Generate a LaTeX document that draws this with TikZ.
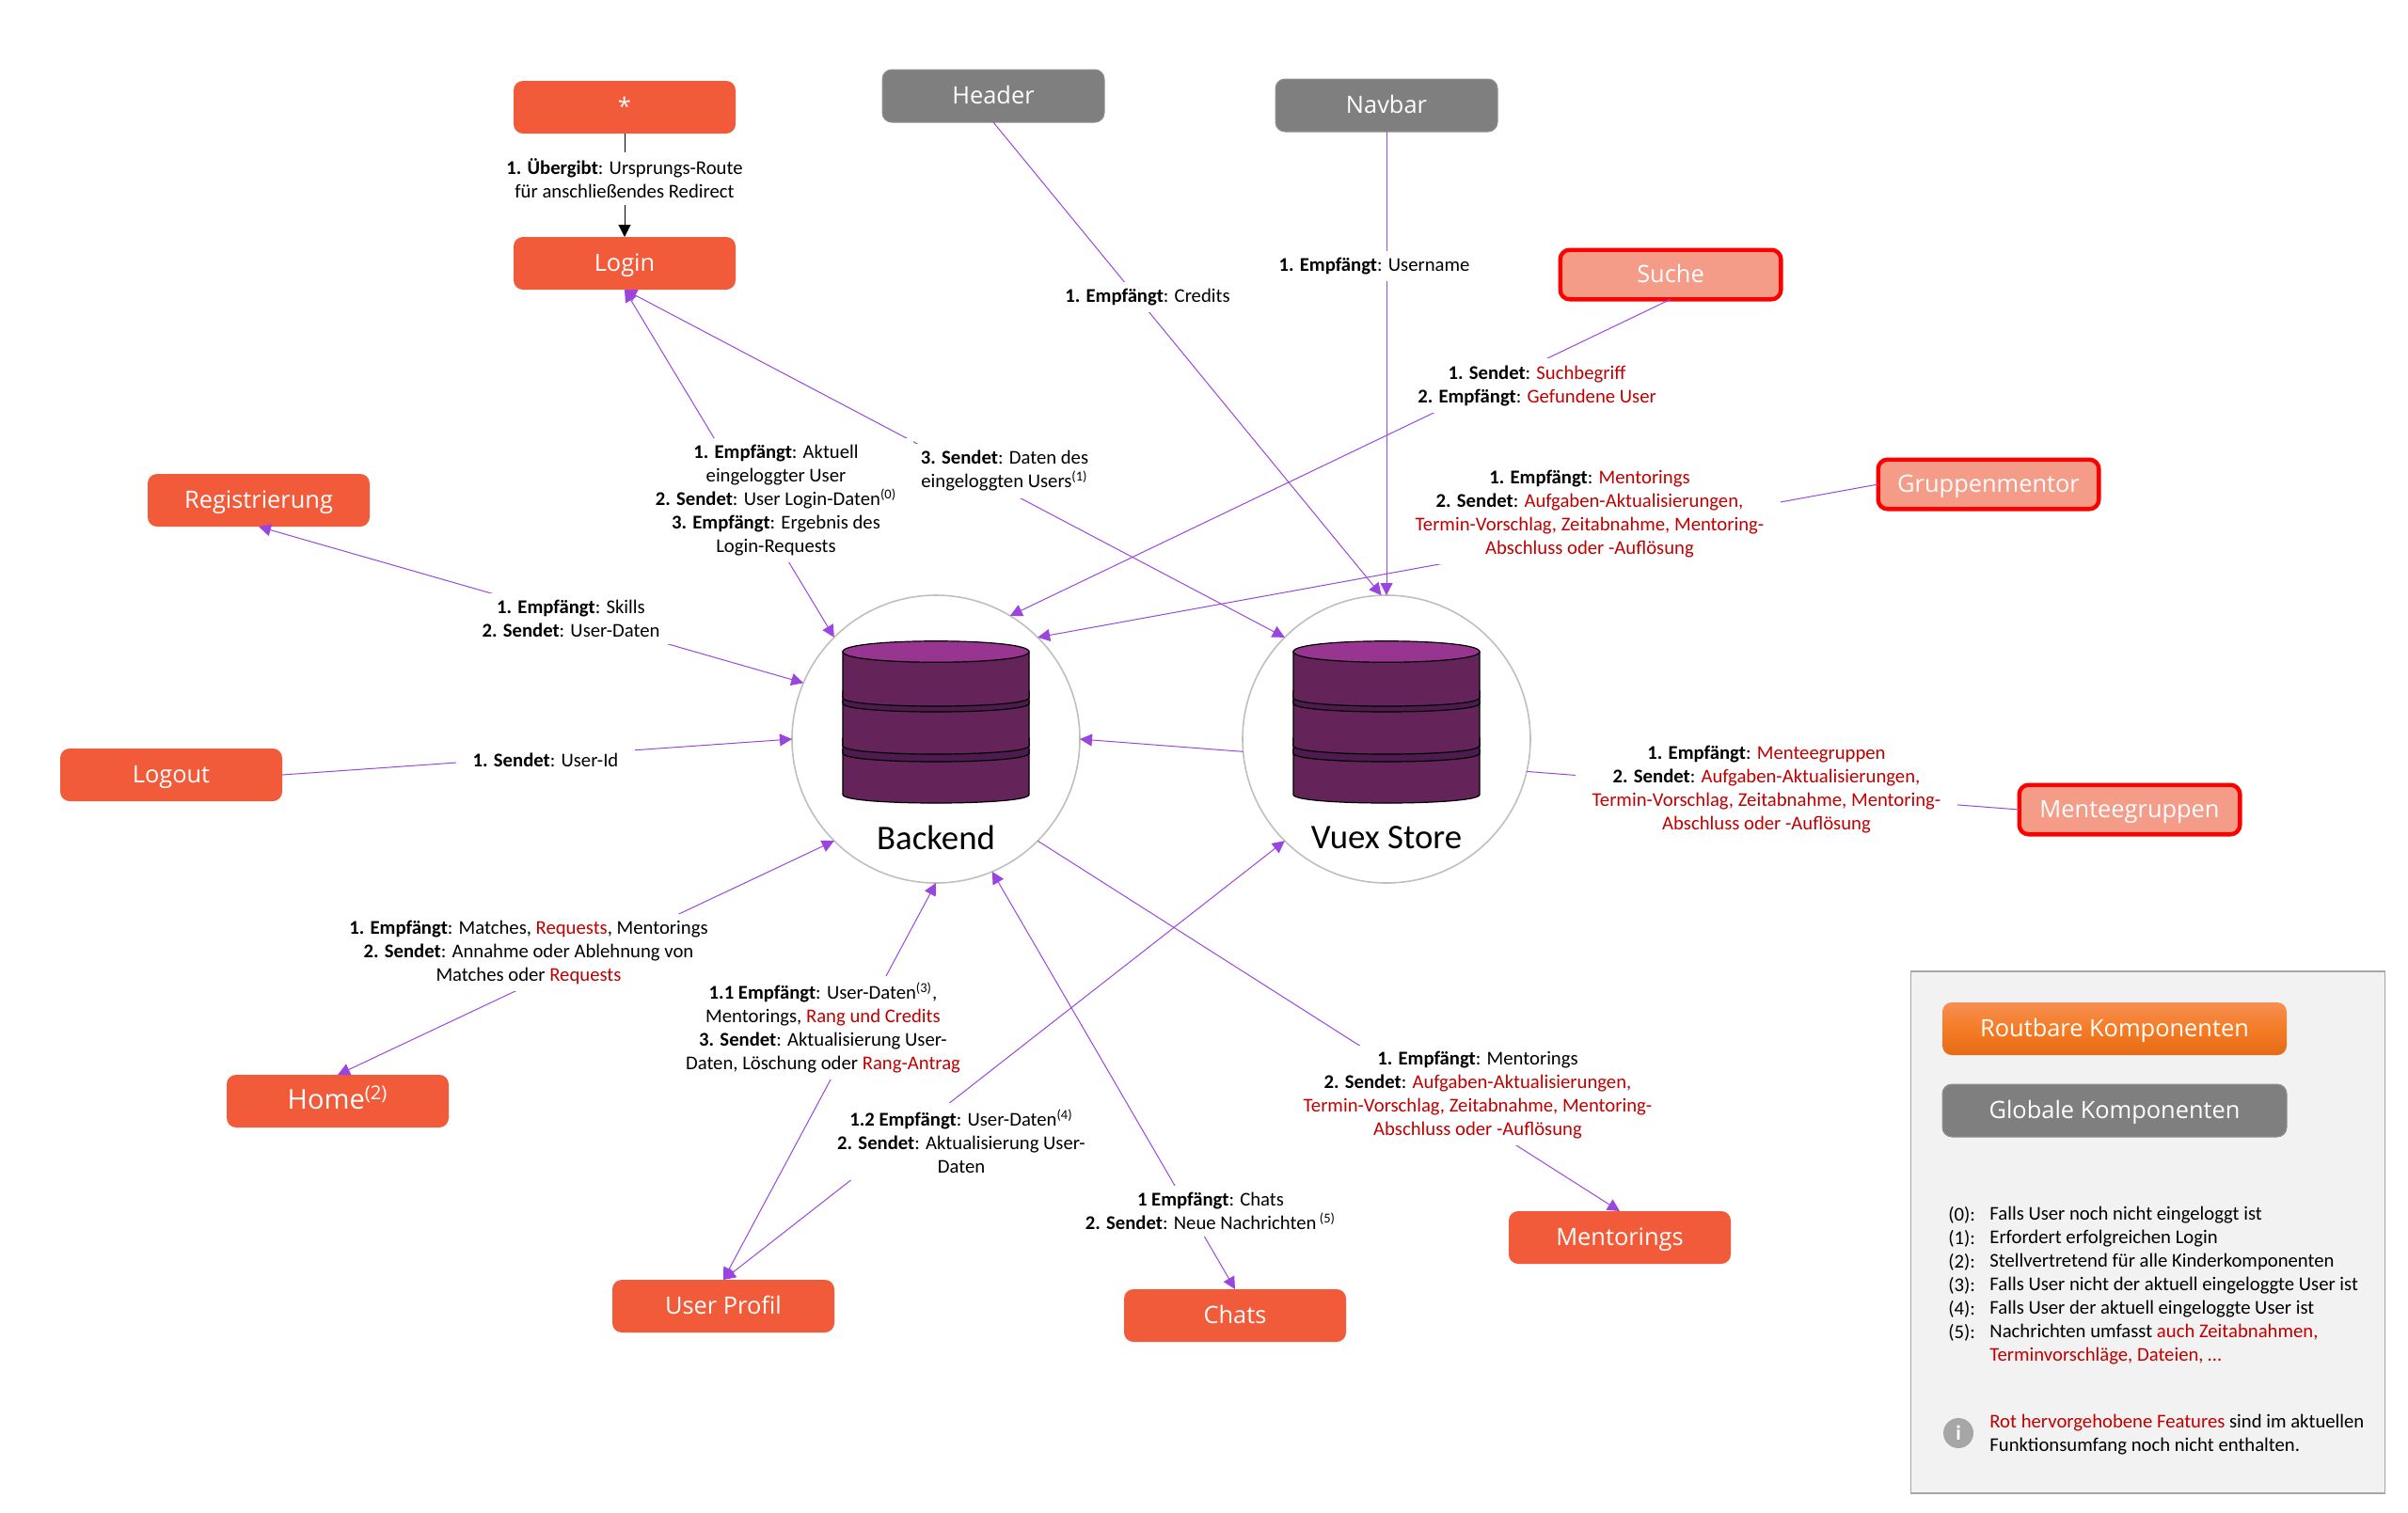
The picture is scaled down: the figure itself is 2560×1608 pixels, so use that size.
\documentclass[tikz,border=0pt]{standalone}
\usepackage{fontspec}
\usepackage{xcolor}
\setmainfont{Carlito}
\newfontfamily\boxfont{Open Sans}
\usetikzlibrary{arrows.meta,positioning}
\definecolor{boxred}{HTML}{F15B3A}
\definecolor{boxpale}{HTML}{F59C88}
\definecolor{boxgray}{HTML}{7F7F7F}
\definecolor{linkviolet}{HTML}{9B45E0}
\definecolor{redtxt}{HTML}{C00000}
\definecolor{dbbody}{HTML}{642459}
\definecolor{dbband}{HTML}{4D1C4F}
\definecolor{dbtop}{HTML}{973590}
\definecolor{legtop}{HTML}{F58F52}
\definecolor{legmid}{HTML}{F57C25}
\definecolor{legbot}{HTML}{E56A17}
\newcommand{\rtxt}[1]{\textcolor{redtxt}{#1}}
\newcommand{\btxt}[1]{\textbf{#1}}
\newcommand{\suptxt}[1]{\textsuperscript{(#1)}}
\newcommand{\dbpart}[3]{\draw[fill=#3,line width=.6pt] (-99,#1) -- (-99,#2) .. controls (-99,#2+12) and (99,#2+12) .. (99,#2) -- (99,#1) -- cycle;}
\newcommand{\dbstack}[1]{\begin{scope}[shift={(#1,0)}]
\dbpart{797}{845}{dbbody}
\dbpart{785}{801}{dbband}
\dbpart{745}{793}{dbbody}
\dbpart{735}{748}{dbband}
\dbpart{693}{742}{dbbody}
\draw[fill=dbtop,line width=.6pt] (-99,693) .. controls (-99,678) and (99,678) .. (99,693) .. controls (99,708) and (-99,708) .. (-99,693) -- cycle;
\end{scope}}

\begin{document}
\begin{tikzpicture}[x=.5pt,y=-.5pt,>={Triangle[length=6.5pt,width=6.5pt]},
 comp/.style={rounded corners=5pt,minimum width=118pt,minimum height=28pt,outer sep=0pt,inner sep=0pt,font=\boxfont\fontsize{12.7}{14}\selectfont,text=white,text height=10.25pt,text depth=1.75pt},
 route/.style={comp,fill=boxred},
 glob/.style={comp,fill=boxgray,draw=boxgray!85!white,line width=.5pt},
 wish/.style={comp,fill=boxpale,draw=red,line width=2.2pt,minimum width=117.3pt,minimum height=26.3pt},
 hub/.style={circle,draw=black!25,line width=.8pt,fill=white,minimum size=153pt,inner sep=0pt,outer sep=0pt},
 hubtxt/.style={font=\fontsize{18.4}{20}\selectfont,inner sep=0pt},
 arr/.style={->,draw=linkviolet,line width=.5pt},
 barr/.style={<->,draw=linkviolet,line width=.5pt},
 plain/.style={draw=linkviolet,line width=.5pt},
 lab/.style={fill=white,align=center,inner xsep=9pt,inner ysep=3.5pt,font=\fontsize{10.35}{12.5}\selectfont},
 legtxt/.style={align=left,inner sep=0pt,anchor=north west,font=\fontsize{10.35}{12.5}\selectfont}]
\useasboundingbox (0,0) rectangle (2560,1608);
\node[route] (star) at (664,114) {*};
\node[route] (login) at (664,280) {Login};
\node[glob] (head) at (1056,102) {Header};
\node[glob] (nav) at (1474,112) {Navbar};
\node[wish] (suche) at (1776,292) {Suche};
\node[wish] (gm) at (2114,515) {Gruppenmentor};
\node[wish] (mg) at (2264,861) {Menteegruppen};
\node[route] (reg) at (275,532) {Registrierung};
\node[route] (logout) at (182,824) {Logout};
\node[route,font=\boxfont\fontsize{14.5}{16}\selectfont] (home) at (359,1171) {Home\suptxt{2}};
\node[route] (prof) at (769,1389) {User Profil};
\node[route] (chats) at (1313,1399) {Chats};
\node[route] (ment) at (1722,1316) {Mentorings};
\node[hub] (be) at (995,786) {};
\node[hub] (vx) at (1474,786) {};
\dbstack{995}
\dbstack{1474}
\node[hubtxt] (betxt) at (995,891) {Backend};
\node[hubtxt] (vxtxt) at (1474,891) {Vuex Store};

\draw[->,draw=black,line width=.5pt] (star.south) -- (login.north);
\draw[arr] (head.south) -- (vx.92);
\draw[arr] (nav.south) -- (vx.north);
\draw[arr] (suche.south) -- (be.59);
\draw[arr] (gm.west) -- (be.45);
\draw[plain] (vx.347) -- (mg.west);
\draw[barr] (login.south) -- (be.135);
\draw[barr] (login.south) -- (vx.135);
\draw[barr] (reg.south) -- (be.157);
\draw[arr] (logout.east) -- (be.west);
\draw[arr] (vx.185) -- (be.east);
\draw[barr] (home.north) -- (be.225);
\draw[barr] (prof.north) -- (be.south);
\draw[barr] (prof.north) -- (vx.225);
\draw[barr] (chats.north) -- (be.293);
\draw[arr] (be.315) -- (ment.north);

\node[lab] (lstar) at (664,190) {\btxt{1. Übergibt}: Ursprungs-Route\\für anschließendes Redirect};
\node[lab] (lhead) at (1220,316) {\btxt{1. Empfängt}: Credits};
\node[lab] (lnav) at (1461,283) {\btxt{1. Empfängt}: Username};
\node[lab] (lsuche) at (1634,410) {\btxt{1. Sendet}: \rtxt{Suchbegriff}\\\btxt{2. Empfängt}: \rtxt{Gefundene User}};
\node[lab] (lgm) at (1690,547) {\btxt{1. Empfängt}: \rtxt{Mentorings}\\\btxt{2. Sendet}: \rtxt{Aufgaben-Aktualisierungen,}\\\rtxt{Termin-Vorschlag, Zeitabnahme, Mentoring-}\\\rtxt{Abschluss oder -Auflösung}};
\node[lab] (lmg) at (1878,840) {\btxt{1. Empfängt}: \rtxt{Menteegruppen}\\\btxt{2. Sendet}: \rtxt{Aufgaben-Aktualisierungen,}\\\rtxt{Termin-Vorschlag, Zeitabnahme, Mentoring-}\\\rtxt{Abschluss oder -Auflösung}};
\node[lab] (lreg) at (607,658) {\btxt{1. Empfängt}: Skills\\\btxt{2. Sendet}: User-Daten};
\node[lab] (llogout) at (580,808) {\btxt{1. Sendet}: User-Id};
\node[lab] (lbe) at (825,532) {\btxt{1. Empfängt}: Aktuell\\eingeloggter User\\\btxt{2. Sendet}: User Login-Daten\suptxt{0}\\\btxt{3. Empfängt}: Ergebnis des\\Login-Requests};
\node[lab] (lvx) at (1068,501) {\btxt{3. Sendet}: Daten des\\eingeloggten Users\suptxt{1}};
\node[lab] (lhome) at (562,1013) {\btxt{1. Empfängt}: Matches, \rtxt{Requests}, Mentorings\\\btxt{2. Sendet}: Annahme oder Ablehnung von\\Matches oder \rtxt{Requests}};
\node[lab] (lprofa) at (875,1093) {\btxt{1.1 Empfängt}: User-Daten\suptxt{3},\\Mentorings, \rtxt{Rang und Credits}\\\btxt{3. Sendet}: Aktualisierung User-\\Daten, Löschung oder \rtxt{Rang-Antrag}};
\node[lab] (lprofb) at (1022,1214) {\btxt{1.2 Empfängt}: User-Daten\suptxt{4}\\\btxt{2. Sendet}: Aktualisierung User-\\Daten};
\node[lab] (lchats) at (1287,1288) {\btxt{1 Empfängt}: Chats\\\btxt{2. Sendet}: Neue Nachrichten\,\suptxt{5}};
\node[lab] (lment) at (1571,1165) {\btxt{1. Empfängt}: Mentorings\\\btxt{2. Sendet}: \rtxt{Aufgaben-Aktualisierungen,}\\\rtxt{Termin-Vorschlag, Zeitabnahme, Mentoring-}\\\rtxt{Abschluss oder -Auflösung}};

\node[draw=black!35,fill=black!5,line width=.6pt,minimum width=252pt,minimum height=277.5pt,inner sep=0pt] (leg) at (2283.5,1310.5) {};
\node[comp,minimum width=183pt,top color=legtop,bottom color=legbot,middle color=legmid] (lroute) at (2248,1094) {Routbare Komponenten};
\node[glob,minimum width=183pt] (lglob) at (2248,1181) {Globale Komponenten};
\node[legtxt] (legkeys) at (2071,1283) {(0):\\(1):\\(2):\\(3):\\(4):\\(5):};
\node[legtxt,right=7.3pt of legkeys.north east,anchor=north west] (legnotes) {Falls User noch nicht eingeloggt ist\\Erfordert erfolgreichen Login\\Stellvertretend für alle Kinderkomponenten\\Falls User nicht der aktuell eingeloggte User ist\\Falls User der aktuell eingeloggte User ist\\Nachrichten umfasst \rtxt{auch Zeitabnahmen,}\\\rtxt{Terminvorschläge, Dateien, \dots}};
\node[circle,fill=black!35,text=white,minimum size=16pt,inner sep=0pt,font=\bfseries\fontsize{11}{12}\selectfont] (info) at (2082,1524) {i};
\node[legtxt] (legfoot) at (2115,1504) {\rtxt{Rot hervorgehobene Features} sind im aktuellen\\Funktionsumfang noch nicht enthalten.};
\end{tikzpicture}
\end{document}
